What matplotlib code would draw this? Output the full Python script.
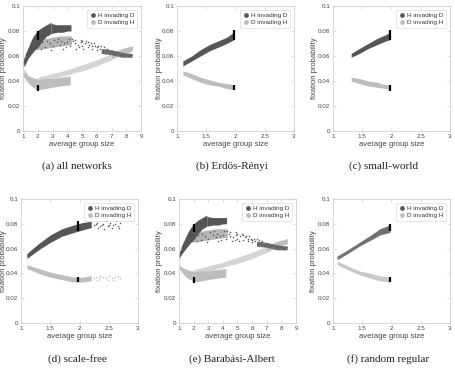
import matplotlib
matplotlib.use("Agg")
import matplotlib.pyplot as plt
from matplotlib.lines import Line2D

plt.rcParams["font.family"] = ["Liberation Sans", "DejaVu Sans"]

DARK = "#555555"
LIGHT = "#bdbdbd"

# ---- Erdos-Renyi ----
er_h_x = [1.10, 1.25, 1.40, 1.55, 1.70, 1.85, 1.97]
er_h_lo = [0.052, 0.056, 0.060, 0.064, 0.067, 0.070, 0.073]
er_h_hi = [0.056, 0.060, 0.065, 0.069, 0.072, 0.075, 0.079]
er_d_x = [1.10, 1.25, 1.40, 1.55, 1.70, 1.85, 1.97]
er_d_lo = [0.045, 0.042, 0.039, 0.037, 0.036, 0.034, 0.033]
er_d_hi = [0.048, 0.046, 0.043, 0.041, 0.039, 0.038, 0.037]
er_err = [(1.97, 0.073, 0.081), (1.97, 0.033, 0.037)]

# ---- small-world ----
sw_h_x = [1.31, 1.45, 1.60, 1.75, 1.90, 1.97]
sw_h_lo = [0.059, 0.062, 0.066, 0.069, 0.072, 0.073]
sw_h_hi = [0.062, 0.066, 0.070, 0.074, 0.077, 0.079]
sw_d_x = [1.31, 1.45, 1.60, 1.75, 1.90, 1.97]
sw_d_lo = [0.040, 0.038, 0.036, 0.035, 0.034, 0.033]
sw_d_hi = [0.043, 0.042, 0.040, 0.039, 0.037, 0.037]
sw_err = [(1.97, 0.073, 0.081), (1.97, 0.032, 0.037)]

# ---- scale-free ----
sf_h_x = [1.10, 1.30, 1.50, 1.70, 1.90, 2.05, 2.20]
sf_h_lo = [0.052, 0.059, 0.065, 0.070, 0.073, 0.075, 0.077]
sf_h_hi = [0.056, 0.064, 0.071, 0.076, 0.079, 0.081, 0.082]
sf_h_sx = [2.25, 2.30, 2.35, 2.40, 2.45, 2.50, 2.55, 2.60, 2.65, 2.70, 2.32, 2.52, 2.42, 2.62,
           2.28, 2.38, 2.48, 2.58, 2.68]
sf_h_sy = [0.079, 0.081, 0.078, 0.080, 0.082, 0.079, 0.077, 0.080, 0.078, 0.081, 0.077, 0.081,
           0.076, 0.082, 0.080, 0.079, 0.078, 0.079, 0.077]
sf_d_x = [1.10, 1.30, 1.50, 1.70, 1.90, 2.05, 2.20]
sf_d_lo = [0.044, 0.040, 0.037, 0.035, 0.033, 0.033, 0.034]
sf_d_hi = [0.047, 0.044, 0.041, 0.039, 0.037, 0.037, 0.038]
sf_d_sx = [2.25, 2.30, 2.35, 2.40, 2.45, 2.50, 2.55, 2.60, 2.65, 2.70, 2.33, 2.58, 2.28, 2.48]
sf_d_sy = [0.036, 0.035, 0.038, 0.037, 0.036, 0.038, 0.036, 0.037, 0.038, 0.036, 0.036, 0.035,
           0.037, 0.035]
sf_err = [(1.97, 0.074, 0.082), (1.97, 0.033, 0.037)]

# ---- Barabasi-Albert ----
ba_h1_x = [1.00, 1.20, 1.40, 1.60, 1.80, 2.00, 2.30, 2.60, 2.90]
ba_h1_lo = [0.052, 0.056, 0.059, 0.062, 0.065, 0.067, 0.072, 0.076, 0.078]
ba_h1_hi = [0.056, 0.063, 0.068, 0.073, 0.077, 0.080, 0.083, 0.085, 0.087]
ba_h2_x = [2.90, 3.30, 3.70, 4.00, 4.25]
ba_h2_lo = [0.078, 0.079, 0.079, 0.080, 0.080]
ba_h2_hi = [0.086, 0.085, 0.085, 0.085, 0.085]
ba_hm_x = [1.80, 2.50, 3.00, 3.50, 4.30]
ba_hm_lo = [0.065, 0.066, 0.067, 0.068, 0.069]
ba_hm_hi = [0.071, 0.074, 0.075, 0.076, 0.076]
ba_ht_x = [6.3, 7.0, 7.7, 8.4]
ba_ht_lo = [0.062, 0.061, 0.059, 0.059]
ba_ht_hi = [0.066, 0.065, 0.063, 0.062]
ba_h_sx = [2.1, 2.3, 2.5, 2.6, 2.8, 3.0, 3.1, 3.3, 3.5, 3.6, 3.8, 4.0, 4.2, 4.4, 4.5,
           4.7, 4.9, 5.0, 5.2, 5.4, 5.5, 5.7, 5.9, 6.0, 6.2, 6.4, 6.6, 6.8, 7.0, 7.2,
           7.4, 7.6, 7.8, 8.0, 8.2, 8.3, 2.2, 2.9, 3.4, 4.6, 5.3, 4.1, 4.8, 5.6, 6.1,
           4.3, 4.5, 4.9, 5.1, 5.4, 5.8, 6.3, 6.5, 6.7, 3.9, 3.7, 5.0, 5.7, 6.0]
ba_h_sy = [0.069, 0.071, 0.067, 0.072, 0.070, 0.068, 0.073, 0.071, 0.069, 0.072, 0.070,
           0.071, 0.068, 0.072, 0.070, 0.069, 0.071, 0.068, 0.070, 0.067, 0.069, 0.066,
           0.068, 0.065, 0.066, 0.064, 0.065, 0.063, 0.064, 0.062, 0.063, 0.061, 0.062,
           0.061, 0.060, 0.061, 0.066, 0.065, 0.074, 0.066, 0.072, 0.074, 0.067, 0.070, 0.068,
           0.074, 0.073, 0.073, 0.066, 0.071, 0.070, 0.068, 0.067, 0.066, 0.067, 0.066,
           0.072, 0.068, 0.067]
ba_d1_x = [1.00, 1.20, 1.40, 1.60, 1.80, 2.00]
ba_d1_lo = [0.044, 0.041, 0.038, 0.036, 0.035, 0.033]
ba_d1_hi = [0.047, 0.045, 0.044, 0.043, 0.042, 0.042]
ba_d2_x = [2.0, 2.5, 3.0, 3.5, 4.2]
ba_d2_lo = [0.033, 0.034, 0.035, 0.036, 0.037]
ba_d2_hi = [0.041, 0.042, 0.042, 0.043, 0.044]
ba_ds_x = [2.0, 3.0, 4.0, 5.0, 6.0, 7.0, 7.7, 8.4]
ba_ds_lo = [0.039, 0.042, 0.045, 0.048, 0.052, 0.057, 0.061, 0.064]
ba_ds_hi = [0.043, 0.046, 0.049, 0.053, 0.057, 0.062, 0.065, 0.068]
ba_dt_x = [7.0, 7.7, 8.4]
ba_dt_lo = [0.058, 0.062, 0.064]
ba_dt_hi = [0.062, 0.066, 0.068]
ba_err = [(2.0, 0.073, 0.080), (2.0, 0.032, 0.037)]

# ---- random regular ----
rr_h_x = [1.07, 1.25, 1.45, 1.65, 1.80, 1.97]
rr_h_lo = [0.051, 0.056, 0.062, 0.067, 0.071, 0.073]
rr_h_hi = [0.054, 0.059, 0.065, 0.071, 0.076, 0.079]
rr_d_x = [1.07, 1.25, 1.45, 1.65, 1.80, 1.97]
rr_d_lo = [0.047, 0.043, 0.039, 0.036, 0.034, 0.033]
rr_d_hi = [0.050, 0.046, 0.042, 0.040, 0.038, 0.037]
rr_err = [(1.97, 0.074, 0.080), (1.97, 0.033, 0.037)]

captions = ["(a) all networks", "(b) Erdös-Rényi", "(c) small-world",
            "(d) scale-free", "(e) Barabási-Albert", "(f) random regular"]
y_ticks = [0, 0.02, 0.04, 0.06, 0.08, 0.1]
y_ticklabels = ["0", "0.02", "0.04", "0.06", "0.08", "0.1"]
x_ticks_wide = [1, 2, 3, 4, 5, 6, 7, 8, 9]
x_ticks_narrow = [1, 1.5, 2, 2.5, 3]
x_ticklabels_narrow = ["1", "1.5", "2", "2.5", "3"]


def draw_er(ax):
    ax.fill_between(er_h_x, er_h_lo, er_h_hi, color=DARK, lw=0)
    ax.fill_between(er_d_x, er_d_lo, er_d_hi, color=LIGHT, lw=0)


def draw_sw(ax):
    ax.fill_between(sw_h_x, sw_h_lo, sw_h_hi, color=DARK, lw=0)
    ax.fill_between(sw_d_x, sw_d_lo, sw_d_hi, color=LIGHT, lw=0)


def draw_sf(ax):
    ax.fill_between(sf_h_x, sf_h_lo, sf_h_hi, color=DARK, lw=0)
    ax.scatter(sf_h_sx, sf_h_sy, s=1.2, color=DARK, lw=0)
    ax.fill_between(sf_d_x, sf_d_lo, sf_d_hi, color=LIGHT, lw=0)
    ax.scatter(sf_d_sx, sf_d_sy, s=1.2, color=LIGHT, lw=0)


def draw_ba(ax):
    ax.fill_between(ba_ds_x, ba_ds_lo, ba_ds_hi, color="#d4d4d4", lw=0)
    ax.fill_between(ba_dt_x, ba_dt_lo, ba_dt_hi, color=LIGHT, lw=0)
    ax.fill_between(ba_d1_x, ba_d1_lo, ba_d1_hi, color=LIGHT, lw=0)
    ax.fill_between(ba_d2_x, ba_d2_lo, ba_d2_hi, color=LIGHT, lw=0)
    ax.fill_between(ba_hm_x, ba_hm_lo, ba_hm_hi, color="#b5b5b5", lw=0)
    ax.fill_between(ba_h1_x, ba_h1_lo, ba_h1_hi, color=DARK, lw=0)
    ax.fill_between(ba_h2_x, ba_h2_lo, ba_h2_hi, color=DARK, lw=0)
    ax.fill_between(ba_ht_x, ba_ht_lo, ba_ht_hi, color="#6e6e6e", lw=0)
    ax.scatter(ba_h_sx, ba_h_sy, s=1.2, color=DARK, lw=0)


def draw_rr(ax):
    ax.fill_between(rr_h_x, rr_h_lo, rr_h_hi, color="#707070", lw=0)
    ax.fill_between(rr_d_x, rr_d_lo, rr_d_hi, color="#c8c8c8", lw=0)


def draw_err(ax, errs):
    for x, lo, hi in errs:
        ax.plot([x, x], [lo, hi], color="black", lw=1.6, solid_capstyle="butt")


fig = plt.figure(figsize=(4.55, 3.68), dpi=100)
W, H = 455.0, 368.0
# pixel boxes: left, right, top, bottom
boxes = [(23, 141, 6, 131), (177, 294, 6, 131), (333, 450, 6, 131),
         (21, 138, 199, 323), (179, 296, 199, 323), (333, 450, 199, 323)]
ylabel_right = [7, 163, 318, 7, 163, 317]
caption_pos = [(77, 166), (232, 166), (384, 166), (77, 359), (232, 359), (388, 359)]

panels = [
    ([draw_er, draw_sw, draw_sf, draw_rr, draw_ba], ba_err, True),
    ([draw_er], er_err, False),
    ([draw_sw], sw_err, False),
    ([draw_sf], sf_err, False),
    ([draw_ba], ba_err, True),
    ([draw_rr], rr_err, False),
]

for i, (funcs, errs, wide) in enumerate(panels):
    l, r, t, b = boxes[i]
    ax = fig.add_axes([l / W, 1 - b / H, (r - l) / W, (b - t) / H])
    for f in funcs:
        f(ax)
    draw_err(ax, errs)
    ax.set_ylim(0, 0.1)
    ax.set_yticks(y_ticks)
    ax.set_yticklabels(y_ticklabels)
    if wide:
        ax.set_xlim(1, 9)
        ax.set_xticks(x_ticks_wide)
    else:
        ax.set_xlim(1, 3)
        ax.set_xticks(x_ticks_narrow)
        ax.set_xticklabels(x_ticklabels_narrow)
    ax.tick_params(direction="in", length=2, width=0.4, labelsize=4.5,
                   colors="#c8c8c8", labelcolor="#444444", pad=2,
                   top=True, right=True)
    for sp in ax.spines.values():
        sp.set_color("#c8c8c8")
        sp.set_linewidth(0.5)
    ax.set_xlabel("average group size", fontsize=5.5, color="#444444", labelpad=1.5)
    ax.set_ylabel("fixation probability", fontsize=5.5, color="#444444")
    ax.yaxis.set_label_coords((ylabel_right[i] - l) / (r - l), 0.5)
    handles = [Line2D([], [], marker="o", ls="", color=DARK, markersize=2.4),
               Line2D([], [], marker="o", ls="", color=LIGHT, markersize=2.4)]
    leg = ax.legend(handles, ["H invading D", "D invading H"], loc="upper right",
                    fontsize=4.6, frameon=True, fancybox=False, handlelength=1,
                    handletextpad=0.3, borderpad=0.4, labelspacing=0.3,
                    borderaxespad=0.6)
    leg.get_frame().set_edgecolor("#c8c8c8")
    leg.get_frame().set_linewidth(0.4)
    for txt in leg.get_texts():
        txt.set_color("#333333")
    cx, cy = caption_pos[i]
    fig.text(cx / W, 1 - cy / H, captions[i], ha="center", va="center",
             fontsize=8, family="Liberation Serif", color="#222222")

fig.savefig("out.png", dpi=100)
